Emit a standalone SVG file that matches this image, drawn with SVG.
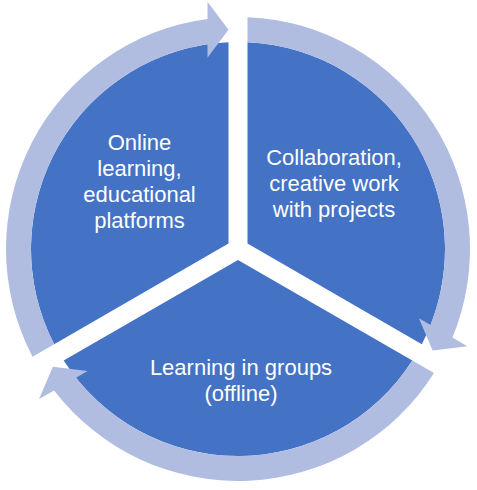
<svg xmlns="http://www.w3.org/2000/svg" width="477" height="490" viewBox="0 0 477 490">
<style>
.wedge{fill:#4472C4;}
.arrow{fill:#B0BDE0;}
.lbl{font-family:"Liberation Sans",Arial,sans-serif;font-size:22px;fill:#FFFFFF;text-anchor:middle;}
</style>
<defs>
<path id="wedgeShape" d="M247.5,243.52 L247.5,42.22 A207,207 0 0 1 421.83,344.16 Z"/>
<path id="arrowShape" d="M32.51,356.67 A232,232 0 0 1 207.5,19.01 L207.5,1.71 L228.5,29.71 L207.5,57.71 L207.5,44.26 A207,207 0 0 0 54.18,344.16 Z"/>
</defs>
<rect width="477" height="490" fill="#FFFFFF"/>
<g id="node-collaboration">
<use href="#wedgeShape" class="wedge"/>
<text class="lbl" x="334" y="164.5">Collaboration,</text>
<text class="lbl" x="334" y="190.5">creative work</text>
<text class="lbl" x="334" y="216.5">with projects</text>
</g>
<g id="node-groups">
<use href="#wedgeShape" class="wedge" transform="rotate(120 238 249)"/>
<text class="lbl" x="241" y="375">Learning in groups</text>
<text class="lbl" x="241" y="401">(offline)</text>
</g>
<g id="node-online">
<use href="#wedgeShape" class="wedge" transform="rotate(240 238 249)"/>
<text class="lbl" x="139.5" y="149.5">Online</text>
<text class="lbl" x="139.5" y="175.5">learning,</text>
<text class="lbl" x="139.5" y="201.8">educational</text>
<text class="lbl" x="139.5" y="228">platforms</text>
</g>
<g id="connectors">
<use href="#arrowShape" class="arrow"/>
<use href="#arrowShape" class="arrow" transform="rotate(120 238 249)"/>
<use href="#arrowShape" class="arrow" transform="rotate(240 238 249)"/>
</g>
</svg>
